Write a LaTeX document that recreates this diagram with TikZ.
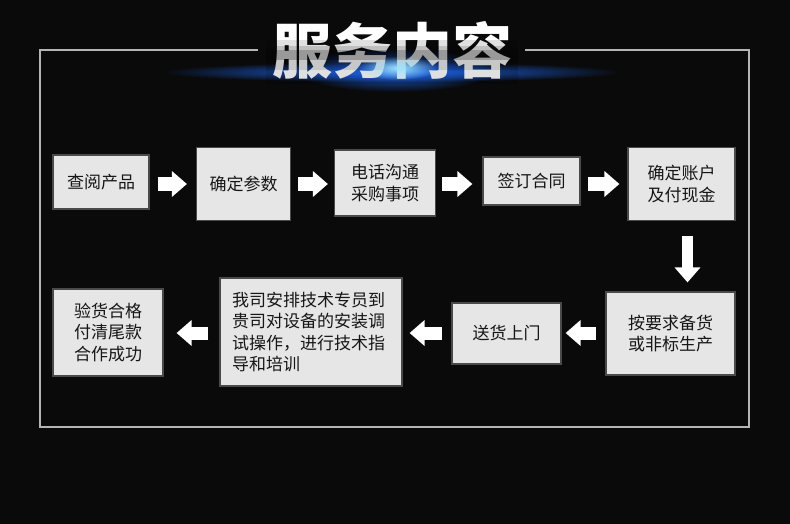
\documentclass[tikz,border=0pt]{standalone}
\usepackage{fontspec}
\newfontfamily\cjk{Noto Sans CJK SC}
\usetikzlibrary{arrows.meta,fadings}
\definecolor{bg}{HTML}{0A0A0A}
\definecolor{boxfill}{HTML}{E6E6E6}
\definecolor{boxedge}{HTML}{4A4A4A}
\definecolor{framec}{HTML}{B5B5B5}
\definecolor{ink}{HTML}{161616}
\definecolor{glowc}{HTML}{1E6CFF}
\definecolor{glowcore}{HTML}{9FE4FF}
\tikzfading[name=glowfade, inner color=transparent!0, outer color=transparent!100]
\begin{document}
\begin{tikzpicture}[x=1pt,y=-1pt,
  stepbox/.style={fill=boxfill, draw=boxedge, line width=1.2pt, text=ink,
    font=\cjk\fontsize{17}{21.5}\selectfont, align=center, inner sep=0pt},
  flowarrow/.style={draw=white, line width=13pt, line cap=butt,
    -{Triangle[length=15pt,width=25pt]}},
  titletext/.style={font=\cjk\bfseries\fontsize{60}{60}\selectfont, anchor=base, inner sep=0pt},
  dimband/.style={fill=black, draw=none}
]
\fill[bg] (0,0) rectangle (790,524);
\useasboundingbox (0,0) rectangle (790,524);

% glow under the title
\fill[glowc, path fading=glowfade] (392,72) ellipse [x radius=230, y radius=10];
\fill[glowc, path fading=glowfade] (395,70) ellipse [x radius=100, y radius=22];

% frame
\draw[framec, line width=2pt] (258,50) -- (40,50) -- (40,427) -- (749,427) -- (749,50) -- (525,50);

% title (silver: white at the top, a grey band across the middle)
\node[titletext, text=white] (title) at (392,74) {服务内容};
\fill[dimband, opacity=0.12] (266,40) rectangle (518,46);
\fill[dimband, opacity=0.25] (266,46) rectangle (518,50);
\fill[dimband, opacity=0.40] (266,50) rectangle (518,60);
\fill[dimband, opacity=0.22] (266,60) rectangle (518,70);
\fill[dimband, opacity=0.12] (266,70) rectangle (518,84);
\fill[glowcore, path fading=glowfade] (398,68) ellipse [x radius=40, y radius=12];

% boxes
\node[stepbox, minimum width=96pt,  minimum height=54pt]  (b1) at (101,182)   {查阅产品};
\node[stepbox, minimum width=94pt,  minimum height=73pt]  (b2) at (243.5,184) {确定参数};
\node[stepbox, minimum width=101pt, minimum height=66pt]  (b3) at (385,183)   {电话沟通\\采购事项};
\node[stepbox, minimum width=97pt,  minimum height=48pt]  (b4) at (531.5,181) {签订合同};
\node[stepbox, minimum width=107pt, minimum height=73pt]  (b5) at (681.5,184) {确定账户\\及付现金};
\node[stepbox, minimum width=129pt, minimum height=83pt]  (b6) at (670.5,333.5) {按要求备货\\或非标生产};
\node[stepbox, minimum width=109pt, minimum height=61pt]  (b7) at (506.5,333.5) {送货上门};
\node[stepbox, minimum width=182pt, minimum height=108pt, text width=158pt, align=left] (b8) at (311,332)
  {我司安排技术专员到\\贵司对设备的安装调\\试操作，进行技术指\\导和培训};
\node[stepbox, minimum width=110pt, minimum height=87pt]  (b9) at (108,332.5) {验货合格\\付清尾款\\合作成功};

% connectors
\coordinate (ra) at (0,184);
\coordinate (la) at (0,333);
\coordinate (dn) at (687.5,0);
\draw[flowarrow, shorten <=8pt, shorten >=9pt]  (b1.east |- ra) -- (b2.west |- ra);
\draw[flowarrow, shorten <=7pt, shorten >=6pt]  (b2.east |- ra) -- (b3.west |- ra);
\draw[flowarrow, shorten <=6pt, shorten >=10pt] (b3.east |- ra) -- (b4.west |- ra);
\draw[flowarrow, shorten <=7pt, shorten >=8pt]  (b4.east |- ra) -- (b5.west |- ra);
\draw[flowarrow, line width=11pt, shorten <=15pt, shorten >=9pt] (b5.south -| dn) -- (b6.north -| dn);
\draw[flowarrow, shorten <=9pt, shorten >=4pt]  (b6.west |- la) -- (b7.east |- la);
\draw[flowarrow, shorten <=9pt, shorten >=7pt]  (b7.west |- la) -- (b8.east |- la);
\draw[flowarrow, shorten <=11pt, shorten >=13pt] (b8.west |- la) -- (b9.east |- la);
\end{tikzpicture}
\end{document}
